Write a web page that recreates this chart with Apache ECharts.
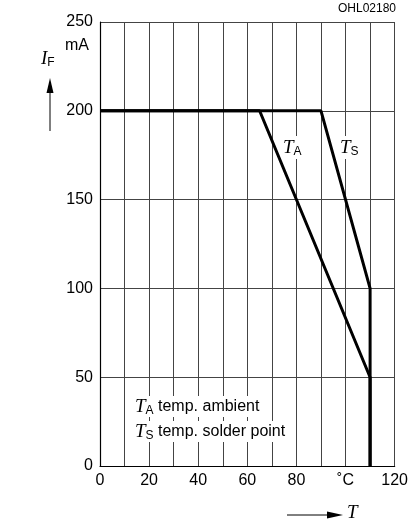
<!DOCTYPE html>
<html>
<head>
<meta charset="utf-8">
<script src="https://cdn.jsdelivr.net/npm/echarts@6/dist/echarts.min.js"></script>
<style>
  html, body { margin: 0; padding: 0; background: #fff; }
  #chart { width: 411px; height: 522px; }
</style>
</head>
<body>
<div id="chart"></div>
<script>
// Derating curves: max forward current vs. temperature
const ambientCurve = [[0, 200], [65, 200], [110, 50], [110, 0]];
const solderCurve  = [[0, 200], [90, 200], [110, 100], [110, 0]];
const xRange = [0, 120];
const yRange = [0, 250];
const xStep = 10;
const yStep = 50;
const xLabelEvery = 20;
const unitTickValue = 100; // the tick that carries the °C unit

const SANS = '"Liberation Sans", Arial, sans-serif';
const SERIF = '"Liberation Serif", "Times New Roman", serif';

const chart = echarts.init(document.getElementById('chart'), null, { renderer: 'canvas' });

const subRich = {
  t: { fontFamily: SERIF, fontStyle: 'italic', fontSize: 19, color: '#000' },
  s: { fontFamily: SANS, fontSize: 12, color: '#000', padding: [9, 0, 0, 0] },
  n: { fontFamily: SANS, fontSize: 16, color: '#000' }
};

chart.setOption({
  animation: false,
  backgroundColor: '#fff',
  grid: { left: 100, right: 15, top: 22, bottom: 56, containLabel: false },
  xAxis: {
    type: 'value',
    min: xRange[0], max: xRange[1], interval: xStep,
    axisLine: { show: true, onZero: false, lineStyle: { color: '#000', width: 1.2 } },
    axisTick: { show: false },
    splitLine: { show: true, lineStyle: { color: '#444', width: 1 } },
    axisLabel: {
      color: '#000', fontFamily: SANS, fontSize: 16, margin: 7,
      showMinLabel: true, showMaxLabel: true,
      formatter: v => (v === unitTickValue ? '˚C' : (v % xLabelEvery === 0 ? String(v) : ''))
    }
  },
  yAxis: {
    type: 'value',
    min: yRange[0], max: yRange[1], interval: yStep,
    axisLine: { show: true, onZero: false, lineStyle: { color: '#000', width: 1.2 } },
    axisTick: { show: false },
    splitLine: { show: true, lineStyle: { color: '#444', width: 1 } },
    axisLabel: { color: '#000', fontFamily: SANS, fontSize: 16, margin: 7 }
  },
  series: [
    {
      type: 'line', data: ambientCurve, symbol: 'none',
      lineStyle: { color: '#000', width: 3 }, z: 5
    },
    {
      type: 'line', data: solderCurve, symbol: 'none',
      lineStyle: { color: '#000', width: 3 }, z: 5
    }
  ],
  graphic: [
    { type: 'text', right: 15, top: 3,
      style: { text: 'OHL02180', font: '12px ' + SANS, fill: '#000' } },
    // y-axis title
    { type: 'text', left: 41, top: 49,
      style: { text: '{t|I}{s|F}', rich: subRich } },
    { type: 'text', left: 65, top: 38,
      style: { text: 'mA', font: '16px ' + SANS, fill: '#000' } },
    { type: 'line', shape: { x1: 50, y1: 131, x2: 50, y2: 90 },
      style: { stroke: '#000', lineWidth: 1 } },
    { type: 'polygon', shape: { points: [[50, 78], [46.5, 93], [53.5, 93]] },
      style: { fill: '#000' } },
    // x-axis title
    { type: 'line', shape: { x1: 287, y1: 515, x2: 330, y2: 515 },
      style: { stroke: '#000', lineWidth: 1 } },
    { type: 'polygon', shape: { points: [[343, 515], [327, 511.5], [327, 518.5]] },
      style: { fill: '#000' } },
    { type: 'text', left: 347, top: 503,
      style: { text: '{t|T}', rich: subRich } },
    // curve labels
    { type: 'text', left: 283, top: 136, z: 10,
      style: { text: '{t|T}{s|A}', rich: subRich, backgroundColor: '#fff', padding: [1, 1, 1, 0] } },
    { type: 'text', left: 340, top: 136, z: 10,
      style: { text: '{t|T}{s|S}', rich: subRich, backgroundColor: '#fff', padding: [1, 1, 1, 0] } },
    // legend
    { type: 'text', left: 135, top: 396, z: 10,
      style: { text: '{t|T}{s|A}{n| temp. ambient}', rich: subRich, backgroundColor: '#fff' } },
    { type: 'text', left: 135, top: 421, z: 10,
      style: { text: '{t|T}{s|S}{n| temp. solder point}', rich: subRich, backgroundColor: '#fff' } }
  ]
});
</script>
</body>
</html>
